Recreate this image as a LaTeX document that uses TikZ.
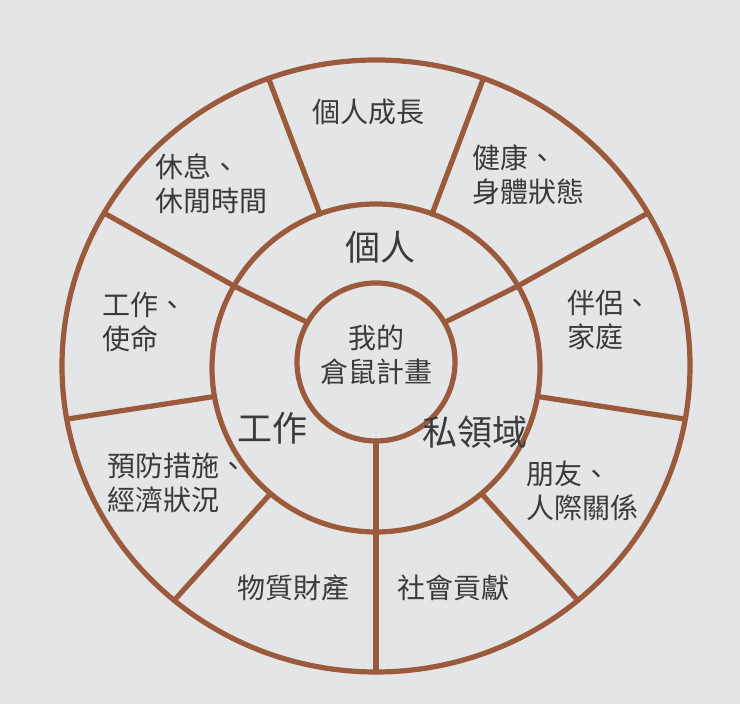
\documentclass[tikz,border=0pt]{standalone}
\usepackage{fontspec}
\usepackage{xcolor}
\newfontfamily\cjk{Noto Sans CJK TC}
\usetikzlibrary{calc}
\definecolor{wheelbrown}{HTML}{9A5A3B}
\definecolor{paper}{HTML}{E4E5E7}
\definecolor{ink}{HTML}{3A3A3A}

\begin{document}
\begin{tikzpicture}[x=0.5pt, y=0.5pt,
    rim/.style={wheelbrown, line width=2.6pt, line cap=round},
    area/.style={font=\cjk\fontsize{14}{17}\selectfont, text=ink, align=left, inner sep=0pt},
    zone/.style={font=\cjk\fontsize{17.5}{20}\selectfont, text=ink, inner sep=0pt}]
    % Paper
    \fill[paper] (0,0) rectangle (740,704);
    \useasboundingbox (0,0) rectangle (740,704);

    % Wheel
    \begin{scope}[shift={(376,338)}]
        \draw[rim] (0,0) ellipse (314 and 306);
        \draw[rim] (0,-2) circle (164);
        \draw[rim] (0,4) circle (79);

        % Spokes of the outer ring
        \foreach \a in {30,70,...,350} {
            \draw[rim] ($(0,-2)+(\a:164)$) -- (\a:314 and 306);
        }

        % Spokes of the middle ring
        \foreach \a in {30,150,270} {
            \draw[rim] ($(0,4)+(\a:79)$) -- ($(0,-2)+(\a:164)$);
        }
    \end{scope}

    % Centre
    \node[area, align=center] (plan) at (376,349) {我的\\倉鼠計畫};

    % Middle ring
    \node[zone] (self) at (380,457) {個人};
    \node[zone] (work) at (272,276) {工作};
    \node[zone] (private) at (475,272) {私領域};

    % Outer ring
    \node[area] (growth) at (368,592) {個人成長};
    \node[area, anchor=west] (health) at (472,529) {健康、\\身體狀態};
    \node[area, anchor=west] (partner) at (567,384) {伴侶、\\家庭};
    \node[area, anchor=west] (friends) at (526,213) {朋友、\\人際關係};
    \node[area] (society) at (453,116) {社會貢獻};
    \node[area] (goods) at (293,116) {物質財產};
    \node[area, anchor=west] (finance) at (107,221) {預防措施、\\經濟狀況};
    \node[area, anchor=west] (mission) at (102,382) {工作、\\使命};
    \node[area, anchor=west] (rest) at (155,520) {休息、\\休閒時間};
\end{tikzpicture}
\end{document}
